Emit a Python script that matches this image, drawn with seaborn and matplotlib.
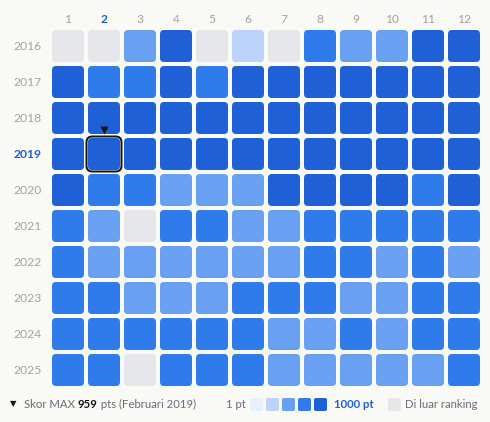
import numpy as np
import pandas as pd
import matplotlib
matplotlib.use("Agg")
import matplotlib.pyplot as plt
import matplotlib.patches as mpatches
import seaborn as sns

# --- data -------------------------------------------------------------
years = [2016, 2017, 2018, 2019, 2020, 2021, 2022, 2023, 2024, 2025]
months = [1, 2, 3, 4, 5, 6, 7, 8, 9, 10, 11, 12]
# 0 = di luar ranking, 1..5 = score band (1 pt ... 1000 pt)
levels = [
    [0, 0, 3, 5, 0, 2, 0, 4, 3, 3, 5, 5],  # 2016
    [5, 4, 4, 5, 4, 5, 5, 5, 5, 5, 5, 5],  # 2017
    [5, 5, 5, 5, 5, 5, 5, 5, 5, 5, 5, 5],  # 2018
    [5, 5, 5, 5, 5, 5, 5, 5, 5, 5, 5, 5],  # 2019
    [5, 4, 4, 3, 3, 3, 5, 5, 5, 5, 4, 5],  # 2020
    [4, 3, 0, 4, 4, 3, 3, 4, 4, 4, 4, 4],  # 2021
    [4, 3, 3, 3, 3, 3, 3, 4, 4, 3, 4, 3],  # 2022
    [4, 4, 3, 3, 3, 4, 4, 4, 3, 3, 4, 4],  # 2023
    [4, 4, 4, 4, 4, 4, 3, 3, 4, 3, 4, 4],  # 2024
    [4, 4, 0, 4, 4, 4, 3, 3, 3, 3, 3, 4],  # 2025
]
best_year = 2019
best_month = 2
best_score = 959
best_label = "Februari 2019"

# --- style ------------------------------------------------------------
BG = "#f9f9f6"
GREY_TXT = "#a8a0a0"
BLUE_TXT = "#1f5fd6"
palette = {
    0: "#e6e7eb",
    1: "#e8f0fe",
    2: "#bbd2fb",
    3: "#6aa0f1",
    4: "#2f7bec",
    5: "#1f60d6",
}

sns.set_theme(style="white")
plt.rcParams["font.family"] = ["Lato", "DejaVu Sans"]

W, H, DPI = 490, 422, 100
px = 72 / DPI  # points per pixel


def rounded_square(radius):
    return mpatches.BoxStyle.Round(pad=0, rounding_size=radius)(
        -0.5, -0.5, 1.0, 1.0, 1.0)


df = pd.DataFrame(
    [(y, m, levels[i][j]) for i, y in enumerate(years) for j, m in enumerate(months)],
    columns=["year", "month", "level"],
)

fig = plt.figure(figsize=(W / DPI, H / DPI), dpi=DPI, facecolor=BG)
ax = fig.add_axes([50 / W, 34 / H, 432 / W, 360 / H])
ax.set_facecolor(BG)

cell = rounded_square(4 / 32)
sns.scatterplot(data=df, x="month", y="year", hue="level", palette=palette,
                marker=cell, s=(32 * px) ** 2, linewidth=0, legend=False, ax=ax)

# highlight the best month
ax.scatter([best_month], [best_year], marker=rounded_square(6 / 36),
           s=(35 * px) ** 2, facecolor="none", edgecolor="#151515",
           linewidth=2 * px, zorder=5)
ax.scatter([best_month], [best_year - 0.67], marker="v", s=(7 * px) ** 2 * 1.3,
           color="#151515", linewidth=0, zorder=5)

ax.set_xlim(0.5, 12.5)
ax.set_ylim(years[-1] + 0.5, years[0] - 0.5)
ax.xaxis.tick_top()
ax.set_xticks(months)
ax.set_xticklabels([str(m) for m in months])
ax.set_yticks(years)
ax.set_yticklabels([str(y) for y in years])
ax.tick_params(axis="x", length=0, pad=2.5, labelsize=8.7, colors=GREY_TXT)
ax.tick_params(axis="y", length=0, pad=6, labelsize=8.7, colors=GREY_TXT)
for lab, m in zip(ax.get_xticklabels(), months):
    if m == best_month:
        lab.set_color(BLUE_TXT)
        lab.set_fontweight("bold")
for lab, y in zip(ax.get_yticklabels(), years):
    if y == best_year:
        lab.set_color(BLUE_TXT)
        lab.set_fontweight("bold")
ax.set_xlabel("")
ax.set_ylabel("")
for s in ax.spines.values():
    s.set_visible(False)

# --- bottom legend ----------------------------------------------------
renderer = fig.canvas.get_renderer()
ly = (H - 404) / H


def put(x, s, **kw):
    t = fig.text(x / W, ly, s, va="center", ha="left", fontsize=8.2, **kw)
    bb = t.get_window_extent(renderer)
    return bb.x1


fig.text(10 / W, ly, "\u25bc", va="center", ha="left", fontsize=6,
         color="#151515", family="DejaVu Sans")
x = put(24, "Skor MAX ", color="#6e6b78")
x = put(x, str(best_score), color="#151515", fontweight="bold")
put(x, f" pts ({best_label})", color="#6e6b78")

put(226, "1 pt", color="#6e6b78")
for k, lvl in enumerate([1, 2, 3, 4, 5]):
    fig.patches.append(mpatches.FancyBboxPatch(
        ((250 + 16 * k) / W, (H - 411) / H), 13 / W, 13 / H,
        boxstyle="round,pad=0,rounding_size=0.004",
        transform=fig.transFigure, facecolor=palette[lvl], linewidth=0))
put(334, "1000 pt", color=BLUE_TXT, fontweight="bold")
fig.patches.append(mpatches.FancyBboxPatch(
    (388 / W, (H - 411) / H), 13 / W, 13 / H,
    boxstyle="round,pad=0,rounding_size=0.004",
    transform=fig.transFigure, facecolor=palette[0], linewidth=0))
put(405, "Di luar ranking", color="#6e6b78")

fig.savefig("out.png", dpi=DPI, facecolor=BG)
